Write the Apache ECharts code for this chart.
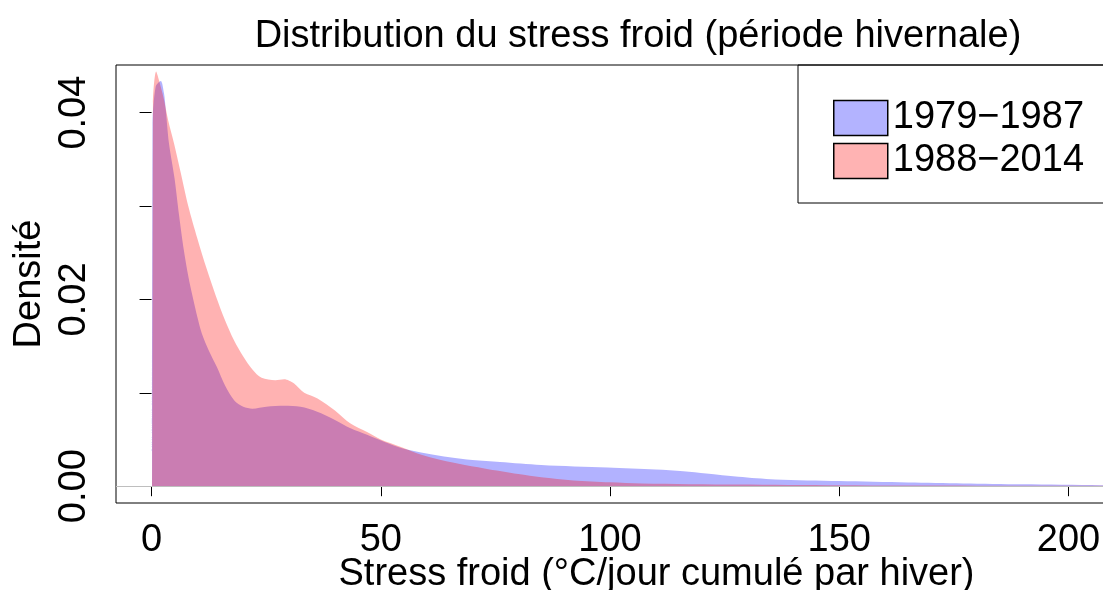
<!DOCTYPE html>
<html>
<head>
<meta charset="utf-8">
<script src="https://cdn.jsdelivr.net/npm/echarts@6/dist/echarts.min.js"></script>
<style>
  html, body { margin: 0; padding: 0; background: #fff; }
  #chart { width: 1103px; height: 590px; }
</style>
</head>
<body>
<div id="chart"></div>
<script>
  // densité 1979-1987 : [stress froid, densité]
  var dens1979 = [
    [0.15, 0], [0.2, 0.0385], [0.9, 0.0428], [2, 0.0434], [2.7, 0.0421], [3.1, 0.0403],
    [3.8, 0.0367], [5, 0.0330], [6, 0.0290], [7, 0.0254], [8, 0.0225], [9, 0.0202],
    [10, 0.0181], [11, 0.0163], [12.5, 0.0145], [14.3, 0.0127], [16, 0.0108], [18, 0.0092],
    [20, 0.0085], [22, 0.0083], [25, 0.0085], [29, 0.0086],
    [32.5, 0.0085], [36, 0.0080], [40, 0.0071], [43.4, 0.0062], [47, 0.0055], [50.7, 0.00475],
    [55, 0.0040], [60, 0.0035], [65, 0.0031], [70, 0.0028], [76, 0.0026], [85, 0.00228],
    [99.5, 0.0020], [110, 0.00179], [116, 0.0016], [121, 0.00136], [128, 0.0010], [136, 0.00072],
    [150, 0.00055], [165, 0.0004], [177, 0.0003], [190, 0.0002], [207, 0.00011], [212, 0.0001]
  ];
  // densité 1988-2014
  var dens1988 = [
    [0.25, 0], [0.3, 0.0410], [1, 0.0444], [1.6, 0.0435], [2.7, 0.0414], [3.6, 0.0392],
    [4.9, 0.0367], [6.3, 0.0337], [8, 0.0300], [10, 0.0265], [12, 0.0233], [14, 0.0204],
    [16, 0.0178], [18, 0.0156], [20, 0.0139], [22, 0.0125], [24, 0.0116],
    [27, 0.01135], [28.9, 0.01144], [30, 0.0113], [31.1, 0.0110], [33.3, 0.0100], [36.2, 0.0094],
    [40, 0.0081], [43.4, 0.0067], [47, 0.0058], [50, 0.0050], [54.4, 0.0042], [58, 0.0035],
    [61.6, 0.0030], [67, 0.0024], [72.6, 0.0019], [80, 0.0013], [85, 0.00095], [92, 0.00062],
    [100, 0.00042], [107, 0.0003], [128, 0.00018], [150, 0.0001], [180, 0.00006], [212, 0.00003]
  ];
  var xTicks = [0, 50, 100, 150, 200];
  var yTicks = [0, 0.01, 0.02, 0.03, 0.04];
  var yLabels = [0, 0.02, 0.04];

  var font = 'Liberation Sans';

  var chart = echarts.init(document.getElementById('chart'));
  chart.setOption({
    animation: false,
    title: {
      text: 'Distribution du stress froid (période hivernale)',
      left: 633,
      top: 13,
      textAlign: 'center',
      textStyle: { fontFamily: font, fontSize: 38, fontWeight: 'normal', color: '#000' }
    },
    legend: {
      orient: 'vertical',
      left: 798,
      top: 65,
      padding: [34, 40, 23, 35],
      itemWidth: 54,
      itemHeight: 35,
      itemGap: 5,
      borderColor: '#000',
      borderWidth: 1,
      icon: 'rect',
      data: [
        { name: '1979\u22121987', itemStyle: { color: '#b3b3ff', borderColor: '#000', borderWidth: 1.5 } },
        { name: '1988\u22122014', itemStyle: { color: '#ffb3b3', borderColor: '#000', borderWidth: 1.5 } }
      ],
      textStyle: { fontFamily: font, fontSize: 38, color: '#000', lineHeight: 36 }
    },
    grid: {
      left: 116,
      top: 65,
      right: -4,
      bottom: 87,
      outerBoundsMode: 'none',
      containLabel: false,
      show: true,
      borderColor: '#000',
      borderWidth: 1
    },
    xAxis: {
      type: 'value',
      min: -7.76,
      max: 208.4,
      name: 'Stress froid (°C/jour cumulé par hiver)',
      nameLocation: 'middle',
      nameGap: 53,
      nameMoveOverlap: false,
      nameTextStyle: { fontFamily: font, fontSize: 38, color: '#000', padding: [0, 0, 0, 90] },
      axisLine: { show: false },
      splitLine: { show: false },
      axisTick: { show: true, length: 10, customValues: xTicks, lineStyle: { color: '#000' } },
      axisLabel: {
        customValues: xTicks,
        margin: 19,
        fontFamily: font, fontSize: 38, color: '#000'
      }
    },
    yAxis: {
      type: 'value',
      min: -0.0018,
      max: 0.0451,
      name: 'Densité',
      nameLocation: 'middle',
      nameGap: 67,
      nameRotate: 90,
      nameMoveOverlap: false,
      nameTextStyle: { fontFamily: font, fontSize: 38, color: '#000' },
      axisLine: { show: false },
      splitLine: { show: false },
      axisTick: { show: true, length: 12, customValues: yTicks, lineStyle: { color: '#000' } },
      axisLabel: {
        customValues: yLabels,
        rotate: 90,
        margin: 22,
        fontFamily: font, fontSize: 38, color: '#000',
        formatter: function (v) { return v.toFixed(2); }
      }
    },
    series: [
      {
        name: '1979\u22121987',
        type: 'line',
        data: dens1979,
        smooth: 0.3,
        showSymbol: false,
        lineStyle: { width: 0 },
        itemStyle: { color: '#b3b3ff' },
        areaStyle: { color: 'rgba(0,0,255,0.3)', opacity: 1, origin: 0 },
        markLine: {
          symbol: 'none',
          silent: true,
          label: { show: false },
          lineStyle: { color: '#bebebe', type: 'solid', width: 1 },
          data: [{ yAxis: 0 }]
        },
        z: 2
      },
      {
        name: '1988\u22122014',
        type: 'line',
        data: dens1988,
        smooth: 0.3,
        showSymbol: false,
        lineStyle: { width: 0 },
        itemStyle: { color: '#ffb3b3' },
        areaStyle: { color: 'rgba(255,0,0,0.3)', opacity: 1, origin: 0 },
        z: 3
      }
    ]
  });
</script>
</body>
</html>
